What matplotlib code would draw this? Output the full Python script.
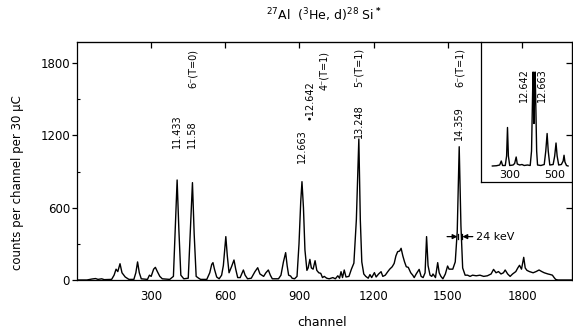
import matplotlib
matplotlib.use("Agg")
import matplotlib.pyplot as plt
from matplotlib.ticker import FixedLocator

# ---------------- data ----------------
channel = [0, 40, 60, 75, 85, 100, 110, 140, 150, 158, 165, 174, 182, 195, 210,
           230, 238, 245, 252, 260, 285, 293, 300, 310, 317, 325, 335, 345, 375,
           390, 397, 405, 412, 420, 432, 450, 458, 467, 474, 482, 492, 500, 525,
           537, 545, 550, 556, 565, 575, 585, 592, 602, 608, 615, 625, 635, 642,
           650, 660, 673, 680, 690, 705, 720, 731, 740, 755, 764, 774, 782, 790,
           815, 825, 835, 844, 850, 856, 864, 870, 880, 890, 898, 905, 910, 916,
           922, 930, 935, 942, 948, 955, 963, 970, 978, 986, 993, 1000, 1010,
           1020, 1035, 1045, 1055, 1062, 1068, 1074, 1081, 1088, 1100, 1110,
           1120, 1130, 1140, 1146, 1152, 1160, 1168, 1178, 1185, 1192, 1203,
           1210, 1220, 1230, 1237, 1247, 1257, 1265, 1275, 1283, 1290, 1297,
           1305, 1311, 1318, 1325, 1332, 1340, 1350, 1358, 1364, 1372, 1384,
           1392, 1400, 1408, 1414, 1420, 1428, 1435, 1440, 1450, 1459, 1465,
           1472, 1480, 1490, 1499, 1505, 1512, 1520, 1530, 1538, 1546, 1553,
           1560, 1570, 1580, 1590, 1600, 1615, 1630, 1645, 1660, 1675, 1685,
           1695, 1705, 1715, 1725, 1732, 1742, 1752, 1762, 1775, 1783, 1790,
           1798, 1807, 1813, 1820, 1830, 1845, 1857, 1869, 1880, 1890, 1905,
           1915, 1923, 1930, 1936, 1945, 2004]
counts = [0, 0, 8, 12, 5, 10, 3, 5, 40, 90, 70, 135, 60, 25, 5,
          5, 60, 150, 60, 10, 5, 40, 30, 90, 105, 70, 30, 10, 5,
          30, 400, 830, 420, 40, 10, 15, 380, 808, 380, 30, 15, 5, 5,
          60, 130, 144, 90, 25, 10, 40, 120, 360, 200, 60, 110, 166, 90,
          20, 20, 83, 40, 10, 15, 70, 102, 50, 30, 60, 83, 40, 10,
          10, 40, 150, 227, 120, 40, 33, 15, 10, 30, 300, 650, 816, 600,
          250, 80, 100, 171, 100, 90, 160, 80, 60, 55, 20, 30, 15,
          10, 20, 10, 35, 15, 69, 20, 83, 25, 30, 90,
          140, 500, 1170, 500, 150, 50, 30, 15, 45, 20, 61,
          25, 50, 69, 30, 40, 69, 90, 110, 138, 200, 235,
          240, 263, 200, 150, 110, 105, 60, 40, 20, 50, 88,
          30, 20, 60, 360, 120, 40, 30, 50, 20, 144, 60,
          30, 10, 50, 116, 90, 90, 90, 150, 400, 1106, 450,
          100, 40, 40, 30, 40, 35, 40, 30, 35, 50, 88,
          60, 70, 50, 60, 83, 50, 30, 50, 70, 100, 122,
          90, 188, 100, 80, 70, 60, 70, 83, 70, 60, 50,
          45, 40, 20, 5, 0, 0]

x_ticks = [300, 600, 900, 1200, 1500, 1800]
y_ticks = [0, 600, 1200, 1800]
y_minor = [300, 900, 1500]

# peak labels: (text, channel, bottom of text in counts)
peak_labels = [("11.433", 405, 1096), ("11.58", 467, 1096), ("6⁻(T=0)", 467, 1594),
               ("12.663", 910, 971), ("•12.642", 940, 1328), ("4⁻(T=1)", 1000, 1577),
               ("13.248", 1140, 1179), ("5⁻(T=1)", 1140, 1602),
               ("14.359", 1547, 1162), ("6⁻(T=1)", 1547, 1602)]

# inset spectrum (doublet region)
in_channel = [222, 240, 255, 262, 268, 280, 286, 290, 294, 300, 315, 322, 329, 334,
              345, 355, 365, 380, 392, 398, 403, 405, 407, 409, 411, 414, 416, 421,
              425, 440, 455, 462, 468, 473, 480, 495, 502, 508, 513, 520, 532, 540,
              544, 548, 555, 562]
in_counts = [0, 5, 20, 100, 10, 10, 200, 770, 200, 10, 20, 50, 180, 40,
             20, 30, 10, 20, 10, 300, 1500, 1880, 1300, 850, 1300, 1880, 1500, 300,
             20, 10, 30, 300, 650, 300, 20, 30, 200, 460, 200, 20, 30, 100,
             215, 80, 10, 0]
in_ticks = [300, 500]
in_labels = [("12.642", 362), ("12.663", 443)]

# ---------------- figure ----------------
plt.rcParams['font.family'] = ['DejaVu Sans']
fig = plt.figure(figsize=(5.73, 3.32), dpi=100)
ax = fig.add_axes([77/573, 52/332, 1 - 77/573 - 0.001, 238/332])
ax.plot(channel, counts, color='black', lw=1.0)
ax.set_xlim(0, 2004)
ax.set_ylim(0, 1975)

for s in ax.spines.values():
    s.set_linewidth(0.9)

ax.xaxis.set_major_locator(FixedLocator(x_ticks))
ax.yaxis.set_major_locator(FixedLocator(y_ticks))
ax.yaxis.set_minor_locator(FixedLocator(y_minor))
ax.tick_params(axis='x', which='major', length=0, pad=7, labelsize=8.5)
ax.tick_params(axis='y', which='major', direction='out', length=3.5, width=0.9,
               pad=1.5, labelsize=8.5)
ax.tick_params(axis='y', which='minor', direction='in', length=2.5, width=0.8)

top = ax.secondary_xaxis('top')
top.set_xticks(x_ticks)
top.set_xticklabels([])
top.tick_params(direction='in', length=4, width=0.9)
right = ax.secondary_yaxis('right')
right.set_yticks(y_ticks[1:])
right.set_yticklabels([])
right.tick_params(direction='in', length=4, width=0.9)

for txt, ch, yb in peak_labels:
    ax.text(ch, yb, txt, rotation=90, ha='center', va='bottom', fontsize=7)

# 24 keV width marker
yk = 360
ax.annotate('', xy=(1539, yk), xytext=(1497, yk),
            arrowprops=dict(arrowstyle='-|>', color='black', lw=0.9,
                            mutation_scale=7, shrinkA=0, shrinkB=0))
ax.annotate('', xy=(1559, yk), xytext=(1601, yk),
            arrowprops=dict(arrowstyle='-|>', color='black', lw=0.9,
                            mutation_scale=7, shrinkA=0, shrinkB=0))
ax.plot([1540, 1540], [yk - 22, yk + 22], color='black', lw=0.9)
ax.plot([1558, 1558], [yk - 22, yk + 22], color='black', lw=0.9)
ax.text(1613, yk, '24 keV', ha='left', va='center', fontsize=8)

# ---------------- inset ----------------
axi = fig.add_axes([481/573, 150/332, 1 - 481/573 + 0.01, 140/332])
axi.patch.set_alpha(0)
axi.plot(in_channel, in_counts, color='black', lw=1.0)
axi.set_xlim(171, 610)
axi.set_ylim(-320, 2480)
axi.spines['top'].set_visible(False)
axi.spines['right'].set_visible(False)
axi.spines['left'].set_linewidth(0.9)
axi.spines['bottom'].set_linewidth(0.9)
axi.set_xticks([])
axi.set_yticks([])
for t in in_ticks:
    axi.text(t, -190, str(t), ha='center', va='center', fontsize=8)
for txt, ch in in_labels:
    axi.text(ch, 1280, txt, rotation=90, ha='center', va='bottom', fontsize=7)

# ---------------- texts ----------------
fig.text(0.565, 0.955, r'$^{27}$Al  ($^{3}$He, d)$^{28}$ Si$^{\bf *}$',
         ha='center', va='center', fontsize=9)
fig.text(18/573, (332-183)/332, 'counts per channel per 30 μC', rotation=90,
         ha='center', va='center', fontsize=8.5)
fig.text(0.562, 0.03, 'channel', ha='center', va='center', fontsize=9)

fig.savefig('out.png', dpi=100)
